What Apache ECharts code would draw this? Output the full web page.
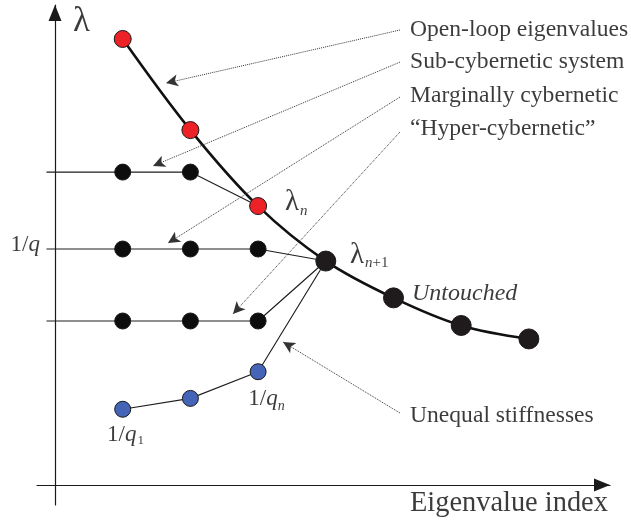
<!DOCTYPE html>
<html><head><meta charset="utf-8">
<script src="https://cdn.jsdelivr.net/npm/echarts@6/dist/echarts.min.js"></script>
<style>html,body{margin:0;padding:0;background:#fff}#c{width:631px;height:523px}</style>
</head><body><div id="c"></div>
<script>
// ---- data (schematic values, 1/q = 1) ----
const eigenIndex = [1, 2, 3, 4, 5, 6, 7];
const openLoop = [1.890, 1.504, 1.182, 0.949, 0.793, 0.676, 0.619];
const nControlled = 3;                       // first n eigenvalues are changed
const subCybernetic = [1.326, 1.326];        // joins lambda_n
const marginal = [1.0, 1.0, 1.0];            // joins lambda_n+1
const hyperCybernetic = [0.695, 0.695, 0.695];
const unequalStiff = [0.321, 0.367, 0.480];  // 1/q_1 ... 1/q_n
const lineStartX = -0.126;                   // horizontal levels start left of the axis
const rightLabels = ['Open-loop eigenvalues', 'Sub-cybernetic system', 'Marginally cybernetic', '\u201cHyper-cybernetic\u201d'];
const bottomLabel = 'Unequal stiffnesses';
const xAxisName = 'Eigenvalue index';

// ---- layout / style ----
const FONT = "'Liberation Serif','Times New Roman',serif";
const TXT = '#0a0a0a';
const curvePts = eigenIndex.map((x, i) => [x, openLoop[i]]);
const lamN = curvePts[nControlled - 1];
const lamN1 = curvePts[nControlled];

const subLine = [[lineStartX, subCybernetic[0]]].concat(subCybernetic.map((v, i) => [eigenIndex[i], v]), [lamN]);
const margLine = [[lineStartX, marginal[0]]].concat(marginal.map((v, i) => [eigenIndex[i], v]), [lamN1]);
const hyperLine = [[lineStartX, hyperCybernetic[0]]].concat(hyperCybernetic.map((v, i) => [eigenIndex[i], v]), [lamN1]);
const blueLine = unequalStiff.map((v, i) => [eigenIndex[i], v]).concat([lamN1]);

const blackSmall = [].concat(
  subCybernetic.map((v, i) => [eigenIndex[i], v]),
  marginal.map((v, i) => [eigenIndex[i], v]),
  hyperCybernetic.map((v, i) => [eigenIndex[i], v])
);

// annotation arrows [from, to] in data coords
const arrowLines = [
  [[5.096, 1.928], [1.640, 1.703]],
  [[5.096, 1.792], [1.448, 1.352]],
  [[5.096, 1.644], [1.669, 1.025]],
  [[5.096, 1.496], [2.629, 0.725]],
  [[5.096, 0.305], [3.368, 0.606]]
];
const rightLabelY = [1.928, 1.795, 1.649, 1.510];
const labelX = 5.244;

const thin = (data) => ({
  type: 'line', data, showSymbol: false, symbol: 'none', z: 1, silent: true,
  lineStyle: { color: '#1e1e1e', width: 1.15 }
});
const dots = (data, color, size) => ({
  type: 'scatter', data, symbolSize: size, z: 5, silent: true,
  itemStyle: { color, borderColor: '#1a1a1a', borderWidth: 1, opacity: 1 }
});

const mk = (x, y, formatter, rich, pos) => ({
  value: [x, y],
  label: { show: true, position: pos || 'right', distance: 0, formatter, rich, color: TXT, fontFamily: FONT }
});
const plain = (size, style) => ({ fontSize: size, fontFamily: FONT, color: TXT, fontStyle: style || 'normal' });

const textItems = [
  mk(0.266, 1.962, '{l|\u03bb}', { l: plain(35) }),
  mk(-0.222, 1.017, '{a|1/}{q|q}', { a: plain(23), q: plain(23, 'italic') }, 'left'),
  mk(3.397, 1.199, '{l|\u03bb}{s|n}', { l: plain(29), s: Object.assign(plain(15, 'italic'), { padding: [19, 0, 0, 1] }) }),
  mk(4.357, 0.975, '{l|\u03bb}{s|n}{p|+1}', { l: plain(29), s: Object.assign(plain(15, 'italic'), { padding: [17, 0, 0, 1] }), p: Object.assign(plain(15), { padding: [17, 0, 0, 0] }) }),
  mk(5.273, 0.811, '{u|Untouched}', { u: plain(24, 'italic') }),
  mk(2.855, 0.364, '{a|1/}{q|q}{s|n}', { a: plain(23), q: plain(23, 'italic'), s: Object.assign(plain(14, 'italic'), { padding: [14, 0, 0, 0] }) }),
  mk(0.768, 0.210, '{a|1/}{q|q}{s|1}', { a: plain(23), q: plain(23, 'italic'), s: Object.assign(plain(13), { padding: [10, 0, 0, 1] }) }),
  mk(labelX, 0.293, '{t|' + bottomLabel + '}', { t: plain(23.6) }),
  mk(labelX, -0.0805, '{t|' + xAxisName + '}', { t: plain(28.4) })
].concat(rightLabels.map((t, i) => mk(labelX, rightLabelY[i], '{t|' + t + '}', { t: plain(23.6) })));

const axisLineOpt = {
  show: true, onZero: true, symbol: ['none', 'triangle'], symbolSize: [13, 16], symbolOffset: [0, -8],
  lineStyle: { color: '#1a1a1a', width: 1.2 }
};

const chart = echarts.init(document.getElementById('c'), null, { renderer: 'canvas' });
chart.setOption({
  animation: false,
  backgroundColor: '#fff',
  grid: { left: 37, right: 21, top: 5, bottom: 18, containLabel: false },
  xAxis: {
    type: 'value', min: -0.266, max: 8.198, axisLine: axisLineOpt,
    axisTick: { show: false }, axisLabel: { show: false }, splitLine: { show: false }
  },
  yAxis: {
    type: 'value', min: -0.0847, max: 2.034, axisLine: axisLineOpt,
    axisTick: { show: false }, axisLabel: { show: false }, splitLine: { show: false }
  },
  series: [
    thin(subLine), thin(margLine), thin(hyperLine), thin(blueLine),
    {
      type: 'line', data: curvePts, smooth: 0.35, showSymbol: false, symbol: 'none', z: 3, silent: true,
      lineStyle: { color: '#111', width: 2.6 },
      markLine: {
        silent: true, animation: false, symbol: ['none', 'arrow'], symbolSize: [9, 12],
        label: { show: false },
        lineStyle: { type: 'dotted', color: '#333', width: 1 },
        emphasis: { disabled: true },
        data: arrowLines.map(([a, b]) => [{ coord: a }, { coord: b }])
      }
    },
    dots(curvePts.slice(0, nControlled), '#ec2227', 17),
    dots(curvePts.slice(nControlled), '#1f1b1c', 20),
    dots(blackSmall, '#0d0d0d', 16),
    dots(unequalStiff.map((v, i) => [eigenIndex[i], v]), '#4464b8', 16),
    {
      type: 'scatter', data: textItems, symbolSize: 0, z: 6, silent: true,
      itemStyle: { color: 'rgba(0,0,0,0)' }
    }
  ]
});
</script></body></html>
